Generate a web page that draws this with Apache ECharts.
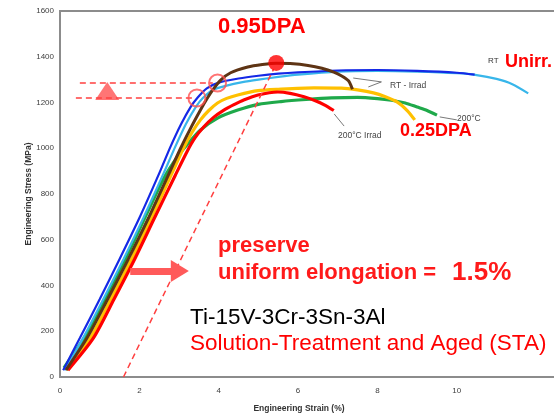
<!DOCTYPE html>
<html>
<head>
<meta charset="utf-8">
<script src="https://cdn.jsdelivr.net/npm/echarts@6/dist/echarts.min.js"></script>
<style>
  html, body { margin: 0; padding: 0; background: #fff; }
  #chart { width: 554px; height: 415px; }
</style>
</head>
<body>
<div id="chart"></div>
<script>
// stress-strain curves, [strain %, stress MPa]
var rtUnirrA = [[0.08,30],[0.5,170],[1.0,340],[1.5,515],[2.0,695],[2.5,890],[2.78,1005],[3.05,1105],[3.29,1180],[3.47,1222],[3.7,1262],[4.0,1287],[4.5,1305],[5.0,1317],[5.5,1326],[6.0,1332],[7.0,1340],[8.0,1342],[9.0,1338],[10.0,1330],[10.45,1322]];
var rtUnirrB = [[0.12,30],[0.58,170],[1.09,340],[1.6,515],[2.1,695],[2.61,890],[2.9,1005],[3.17,1105],[3.42,1180],[3.6,1220],[3.85,1255],[4.2,1274],[4.6,1289],[5.0,1300],[5.5,1312],[6.0,1322],[7.0,1335],[8.0,1338],[9.0,1335],[10.0,1328],[10.5,1320],[11.0,1303],[11.4,1280],[11.8,1240]];
var rtIrrad = [[0.15,30],[0.68,170],[1.2,340],[1.72,515],[2.23,695],[2.75,890],[3.04,1000],[3.3,1090],[3.54,1167],[3.7,1215],[3.85,1255],[4.05,1298],[4.3,1330],[4.73,1355],[5.1,1366],[5.45,1372],[5.8,1370],[6.25,1362],[6.6,1350],[6.9,1333],[7.1,1316],[7.27,1295],[7.37,1258]];
var rtIrrad025 = [[0.17,30],[0.76,170],[1.28,340],[1.8,515],[2.3,695],[2.82,890],[3.11,1000],[3.33,1070],[3.54,1124],[3.75,1165],[3.97,1198],[4.2,1218],[4.48,1233],[4.99,1252],[5.5,1258],[6.4,1264],[7.09,1263],[7.5,1255],[7.9,1242],[8.2,1225],[8.5,1202],[8.75,1165],[8.94,1124]];
var hot = [[0.1,40],[0.66,185],[1.16,350],[1.66,520],[2.15,700],[2.62,870],[2.95,960],[3.25,1025],[3.54,1080],[3.97,1132],[4.48,1167],[5.0,1192],[5.57,1204],[6.2,1213],[6.84,1220],[7.5,1222],[8.0,1217],[8.35,1210],[8.7,1198],[9.0,1180],[9.25,1165],[9.5,1145]];
var hotIrrad = [[0.2,30],[0.84,170],[1.36,340],[1.88,515],[2.38,695],[2.9,880],[3.2,985],[3.4,1045],[3.62,1093],[3.87,1135],[4.13,1167],[4.4,1192],[4.63,1211],[4.99,1233],[5.49,1246],[5.8,1240],[6.15,1225],[6.45,1207],[6.66,1190],[6.9,1165]];

// annotation geometry (data coords)
var yieldLineHi = [[0.5,1285],[3.85,1285]];
var yieldLineLo = [[0.4,1220],[3.35,1220]];
var offsetLine = [[1.6,0],[5.38,1345]];
var yieldCircles = [[3.45,1220],[3.97,1285]];
var uteDot = [[5.45,1373]];
var upTriangle = [[1.19,1250]];
var shiftArrow = [[1.77,463],[3.02,463]];
var leaderRtIrrad = [[[8.1,1290],[7.39,1307]],[[8.1,1290],[7.77,1268]]];
var leaderHotIrrad = [[7.16,1097],[6.91,1150]];
var leaderHot = [[10.0,1124],[9.57,1137]];

var xTicks = [0, 2, 4, 6, 8, 10];

var chart = echarts.init(document.getElementById('chart'));

function curve(data, color, w) {
  return {
    type: 'line', data: data, symbol: 'none', smooth: 0.25,
    lineStyle: { color: color, width: w || 3 }, silent: true
  };
}
function dashed(data) {
  return {
    type: 'line', data: data, symbol: 'none',
    lineStyle: { color: '#ff4040', width: 1.5, type: [6, 4] }, silent: true
  };
}
function leader(data) {
  return {
    type: 'line', data: data, symbol: 'circle', symbolSize: [0, 3],
    showSymbol: true, itemStyle: { color: '#333' },
    lineStyle: { color: '#555', width: 0.8 }, silent: true
  };
}
function txt(x, y, s, font, color) {
  return {
    type: 'text', x: x, y: y, z: 100,
    style: { text: s, font: font, fill: color, verticalAlign: 'middle', align: 'left' }
  };
}

var series = [
  curve(hot, '#1fa94a', 3.2),
  curve(rtIrrad025, '#ffc000', 3.2),
  curve(hotIrrad, '#ff0000', 3.2),
  curve(rtUnirrB, '#38b6ea', 2.2),
  curve(rtUnirrA, '#1428e6', 2.2),
  curve(rtIrrad, '#5e3414', 3),
  dashed(yieldLineHi),
  dashed(yieldLineLo),
  dashed(offsetLine),
  leader(leaderRtIrrad[0]),
  leader(leaderRtIrrad[1]),
  leader(leaderHotIrrad),
  leader(leaderHot),
  {
    type: 'scatter', data: yieldCircles, symbolSize: 17, silent: true, z: 5,
    itemStyle: { color: 'rgba(0,0,0,0)', borderColor: '#ff5050', borderWidth: 2 }
  },
  {
    type: 'scatter', data: uteDot, symbolSize: 16, silent: true, z: 5,
    itemStyle: { color: '#ff0000' }
  },
  {
    type: 'scatter', data: upTriangle, symbol: 'triangle', symbolSize: [24, 18], silent: true,
    itemStyle: { color: '#ff5252' }
  },
  {
    type: 'line', data: [], silent: true,
    markLine: {
      silent: true, symbol: ['none', 'triangle'], symbolSize: [22, 18],
      label: { show: false },
      lineStyle: { color: '#ff5a5a', width: 7, type: 'solid' },
      data: [[{ coord: shiftArrow[0] }, { coord: shiftArrow[1] }]]
    }
  }
];

var option = {
  animation: false,
  grid: {
    left: 60, top: 11, right: -2, bottom: 38, outerBoundsMode: 'none', containLabel: false,
    show: true, borderColor: '#8c8c8c', borderWidth: 2
  },
  xAxis: {
    type: 'value', min: 0, max: 12.5, interval: 2,
    name: 'Engineering Strain (%)', nameLocation: 'middle', nameGap: 27, nameMoveOverlap: false,
    nameTextStyle: { fontSize: 8.5, fontWeight: 'bold', color: '#333', padding: [0, 18, 0, 0] },
    axisLine: { show: true, lineStyle: { color: '#8c8c8c', width: 2 } },
    axisTick: { show: false },
    splitLine: { show: false },
    axisLabel: {
      fontSize: 8, color: '#404040', margin: 10,
      formatter: function (v) { return xTicks.indexOf(v) >= 0 ? String(v) : ''; }
    }
  },
  yAxis: {
    type: 'value', min: 0, max: 1600, interval: 200,
    name: 'Engineering Stress (MPa)', nameLocation: 'middle', nameGap: 27, nameMoveOverlap: false,
    nameTextStyle: { fontSize: 8.5, fontWeight: 'bold', color: '#333' },
    axisLine: { show: true, lineStyle: { color: '#8c8c8c', width: 2 } },
    axisTick: { show: false },
    splitLine: { show: false },
    axisLabel: { fontSize: 8, color: '#404040', margin: 6, formatter: function (v) { return String(v); } }
  },
  series: series,
  graphic: [
    txt(218, 27, '0.95DPA', 'bold 22px "Liberation Sans", Arial', '#ff0000'),
    txt(488, 61, 'RT', '8px "Liberation Sans", Arial', '#333'),
    txt(505, 62, 'Unirr.', 'bold 18px "Liberation Sans", Arial', '#ff0000'),
    txt(390, 86, 'RT - Irrad', '8.5px "Liberation Sans", Arial', '#444'),
    txt(457, 119, '200°C', '8.5px "Liberation Sans", Arial', '#444'),
    txt(338, 136, '200°C Irrad', '8.5px "Liberation Sans", Arial', '#444'),
    txt(400, 131, '0.25DPA', 'bold 18px "Liberation Sans", Arial', '#ff0000'),
    txt(218, 246, 'preserve', 'bold 22px "Liberation Sans", Arial', '#ff1a1a'),
    txt(218, 273, 'uniform elongation = ', 'bold 22px "Liberation Sans", Arial', '#ff1a1a'),
    txt(452, 273, '1.5%', 'bold 26px "Liberation Sans", Arial', '#ff1a1a'),
    txt(190, 318, 'Ti-15V-3Cr-3Sn-3Al', '22.5px "Liberation Sans", Arial', '#000'),
    txt(190, 344, 'Solution-Treatment and Aged (STA)', '22.5px "Liberation Sans", Arial', '#ff0000')
  ]
};

chart.setOption(option);
</script>
</body>
</html>
